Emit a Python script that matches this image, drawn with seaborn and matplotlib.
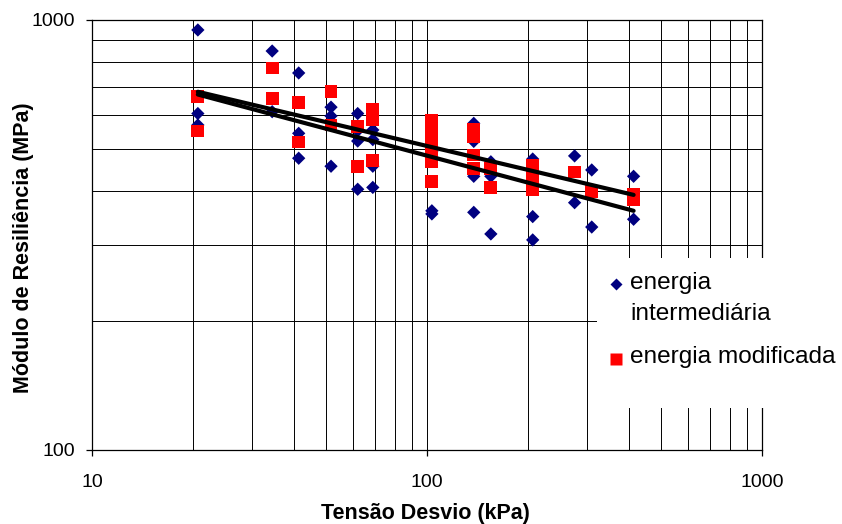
import numpy as np
import pandas as pd
import matplotlib
matplotlib.use("Agg")
import matplotlib.pyplot as plt
import seaborn as sns
from matplotlib.lines import Line2D
from matplotlib.patches import Rectangle
from matplotlib.ticker import NullFormatter, LogLocator

# ---------------- data ----------------
x_inter = [20.7, 20.7, 20.7,
           34.5, 34.5,
           41.4, 41.4, 41.4,
           51.7, 51.7, 51.7,
           62.1, 62.1, 62.1, 62.1,
           68.9, 68.9, 68.9, 68.9,
           103.4, 103.4, 103.4,
           137.9, 137.9, 137.9, 137.9,
           155.1, 155.1, 155.1,
           206.8, 206.8, 206.8,
           275.8, 275.8,
           310.3, 310.3,
           413.7, 413.7]
y_inter = [948, 606, 570,
           847, 612,
           753, 545, 477,
           627, 598, 457,
           606, 553, 523, 404,
           555, 527, 457, 408,
           494, 360, 354,
           575, 522, 433, 357,
           468, 433, 318,
           475, 349, 308,
           483, 376,
           448, 330,
           433, 344]

x_mod = [20.7, 20.7,
         34.5, 34.5,
         41.4, 41.4,
         51.7, 51.7,
         62.1, 62.1,
         68.9, 68.9, 68.9,
         103.4, 103.4, 103.4, 103.4, 103.4, 103.4,
         137.9, 137.9, 137.9, 137.9,
         155.1, 155.1,
         206.8, 206.8, 206.8, 206.8,
         275.8,
         310.3,
         413.7, 413.7]
y_mod = [665, 552,
         773, 657,
         643, 520,
         681, 570,
         565, 457,
         620, 588, 472,
         585, 550, 517, 485, 468, 421,
         558, 536, 485, 452,
         452, 408,
         460, 445, 425, 403,
         443,
         399,
         393, 382]

# trend lines (power fits at their end points)
trend_x = [20.7, 413.7]
trend_mod = [681, 392]
trend_inter = [671, 360]

series_names = ["energia intermediária", "energia modificada"]
x_ticks = [10, 100, 1000]
x_ticklabels = ["10", "100", "1000"]
y_ticks = [100, 1000]
y_ticklabels = ["100", "1000"]
x_title = "Tensão Desvio (kPa)"
y_title = "Módulo de Resiliência (MPa)"

NAVY = "#000080"
RED = "#FF0000"

# ---------------- figure ----------------
sns.set_theme(style="white")
plt.rcParams['font.family'] = ['Liberation Sans', 'DejaVu Sans']

W, H = 842, 524
fig = plt.figure(figsize=(W / 100, H / 100), dpi=100)
ax = fig.add_axes([92 / W, 1 - 450 / H, 670 / W, 430 / H])
ax.set_xscale('log')
ax.set_yscale('log')

df_i = pd.DataFrame({"x": x_inter, "y": y_inter})
df_m = pd.DataFrame({"x": x_mod, "y": y_mod})
df_t = pd.DataFrame({"x": trend_x * 2,
                     "y": trend_inter + trend_mod,
                     "s": [series_names[0]] * 2 + [series_names[1]] * 2})

sns.scatterplot(data=df_i, x="x", y="y", marker="D", s=46, color=NAVY,
                edgecolor="none", linewidth=0, ax=ax, zorder=3, legend=False)
sns.scatterplot(data=df_m, x="x", y="y", marker="s", s=84, color=RED,
                edgecolor="none", linewidth=0, ax=ax, zorder=4, legend=False)
sns.lineplot(data=df_t, x="x", y="y", units="s", estimator=None,
             color="black", lw=3.0, ax=ax, zorder=5, legend=False)

ax.set_xlim(10, 1000)
ax.set_ylim(100, 1000)

ax.xaxis.set_minor_locator(LogLocator(base=10, subs=np.arange(2, 10)))
ax.yaxis.set_minor_locator(LogLocator(base=10, subs=np.arange(2, 10)))
ax.xaxis.set_minor_formatter(NullFormatter())
ax.yaxis.set_minor_formatter(NullFormatter())
ax.set_xticks(x_ticks)
ax.set_xticklabels(x_ticklabels)
ax.set_yticks(y_ticks)
ax.set_yticklabels(y_ticklabels)

ax.grid(True, which="both", color="black", lw=0.7)
ax.set_axisbelow(True)
for sp in ax.spines.values():
    sp.set_color("black")
    sp.set_linewidth(0.9)

ax.tick_params(which="major", bottom=True, left=True, length=4, width=0.9,
               direction="out", color="black", labelsize=14, labelcolor="black")
ax.tick_params(axis="x", which="major", pad=13)
ax.tick_params(axis="y", which="major", pad=8)
ax.tick_params(which="minor", length=0)

ax.set_xlabel(x_title, fontsize=15.5, fontweight="bold", color="black")
ax.set_ylabel(y_title, fontsize=15.5, fontweight="bold", color="black")
ax.xaxis.set_label_coords(0.497, -0.124)
ax.yaxis.set_label_coords(-0.086, 0.471)

# ---------------- legend (white box overlapping the grid) ----------------
fig.add_artist(Rectangle((597 / W, 1 - 408 / H), 245 / W, 150 / H,
                         transform=fig.transFigure, facecolor="white",
                         edgecolor="none", zorder=10))
fig.add_artist(Line2D([616 / W], [1 - 283.5 / H], marker="D", ms=6.6,
                      color=NAVY, mec="none", ls="none",
                      transform=fig.transFigure, zorder=11))
fig.add_artist(Line2D([616 / W], [1 - 358.5 / H], marker="s", ms=9.3,
                      color=RED, mec="none", ls="none",
                      transform=fig.transFigure, zorder=11))
fs_leg = 17.6
fig.text(630 / W, 1 - 288.5 / H, "energia", fontsize=fs_leg, va="baseline",
         ha="left", color="black", zorder=12)
fig.text(630 / W, 1 - 320.5 / H, "intermediária", fontsize=fs_leg, va="baseline",
         ha="left", color="black", zorder=12)
fig.text(630 / W, 1 - 363.5 / H, series_names[1], fontsize=fs_leg, va="baseline",
         ha="left", color="black", zorder=12)

fig.savefig("out.png", dpi=100, facecolor="white")
